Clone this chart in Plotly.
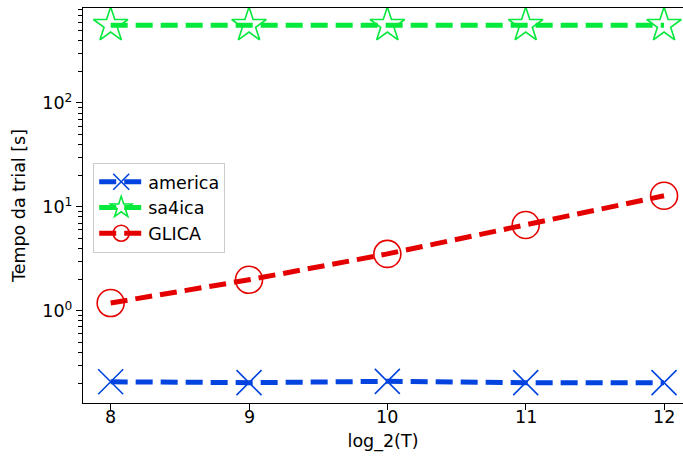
import plotly.graph_objects as go

# Run-time per trial (seconds) against log2 of the trial length T
log2_T = [8, 9, 10, 11, 12]
america = [0.208, 0.204, 0.210, 0.204, 0.204]
sa4ica = [560, 560, 560, 560, 560]
glica = [1.19, 1.99, 3.53, 6.7, 12.8]

y_major = [1, 10, 100]
y_major_text = ["10<sup>0</sup>", "10<sup>1</sup>", "10<sup>2</sup>"]
y_minor = [m * d for d in (0.1, 1, 10, 100) for m in range(2, 10) if 0.13 < m * d < 820]

BLUE = "#0343df"
GREEN = "#05e83c"
RED = "#e50000"

fig = go.Figure()

series = [
    ("america", america, BLUE, "x-thin-open", 25),
    ("sa4ica", sa4ica, GREEN, "star-open", 26),
    ("GLICA", glica, RED, "circle-open", 27),
]
for name, vals, col, sym, size in series:
    fig.add_trace(go.Scatter(
        x=log2_T, y=vals, name=name, mode="lines+markers",
        line=dict(color=col, width=5, dash="17px,8px"),
        marker=dict(symbol=sym, size=size, color=col,
                    line=dict(color=col, width=1.6)),
    ))

font = dict(family="DejaVu Sans", size=17.5, color="black")

# x tick labels placed just under the tick marks
for v in log2_T:
    fig.add_annotation(x=v, y=0, xref="x", yref="paper", text=str(v),
                       showarrow=False, yanchor="top", yshift=-3,
                       borderpad=0, font=font)

fig.update_layout(
    width=683, height=464,
    margin=dict(l=83, r=0, t=8, b=61),
    paper_bgcolor="white", plot_bgcolor="white",
    font=font,
    showlegend=True,
    legend=dict(
        x=0.017, y=0.608, xanchor="left", yanchor="top",
        bgcolor="rgba(255,255,255,0.8)", bordercolor="#cccccc", borderwidth=1,
        font=font, itemwidth=44, tracegroupgap=0,
    ),
    xaxis=dict(
        range=[7.8, 12.137],
        tickvals=log2_T, showticklabels=False,
        ticks="outside", ticklen=6, tickwidth=1.2, tickcolor="black",
        showline=True, linecolor="black", linewidth=1.2, mirror=True,
        showgrid=False, zeroline=False,
        title=dict(text="log_2(T)", font=font, standoff=25),
    ),
    yaxis=dict(
        type="log", range=[-0.886, 2.913],
        tickvals=y_major, ticktext=y_major_text,
        ticks="outside", ticklen=6, tickwidth=1.2, tickcolor="black",
        minor=dict(tickvals=y_minor, ticks="outside", ticklen=3.5,
                   tickwidth=1, tickcolor="black", showgrid=False),
        showline=True, linecolor="black", linewidth=1.2,
        showgrid=False, zeroline=False,
        title=dict(text="Tempo da trial [s]", font=font, standoff=12),
    ),
)

fig.write_html("out.html")
